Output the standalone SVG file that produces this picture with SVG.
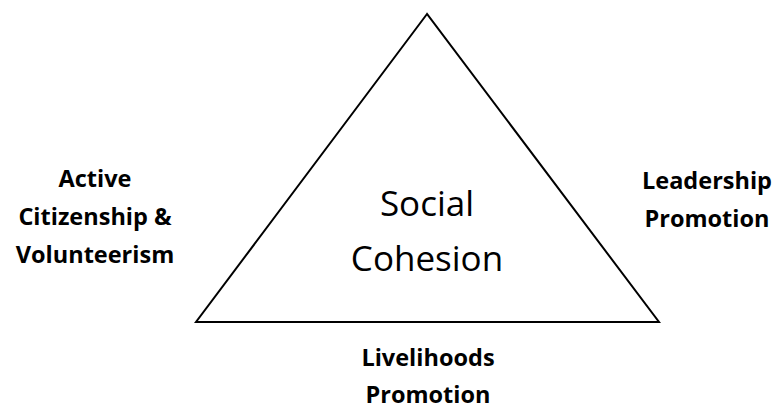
<svg xmlns="http://www.w3.org/2000/svg" width="777" height="409" viewBox="0 0 777 409">
  <style>
    .label { font-family: "Open Sans", "Liberation Sans", sans-serif; font-weight: bold; font-size: 23.5px; fill: #000; text-anchor: middle; }
    .center { font-family: "Open Sans", "Liberation Sans", sans-serif; font-size: 35px; fill: #000; text-anchor: middle; }
    .tri { fill: #fff; stroke: #000; stroke-width: 2; stroke-linejoin: miter; }
  </style>
  <rect width="777" height="409" fill="#fff"/>
  <g id="triangle">
    <polygon class="tri" points="427,14 196,322 659,322"/>
    <text class="center" x="427" y="216">Social</text>
    <text class="center" x="427" y="271">Cohesion</text>
  </g>
  <g id="active-citizenship">
    <text class="label" x="95" y="187">Active</text>
    <text class="label" x="95" y="225">Citizenship &amp;</text>
    <text class="label" x="95" y="263">Volunteerism</text>
  </g>
  <g id="leadership">
    <text class="label" x="707" y="189">Leadership</text>
    <text class="label" x="707" y="227">Promotion</text>
  </g>
  <g id="livelihoods">
    <text class="label" x="428" y="366">Livelihoods</text>
    <text class="label" x="428" y="403">Promotion</text>
  </g>
  <g id="connectors"></g>
</svg>
